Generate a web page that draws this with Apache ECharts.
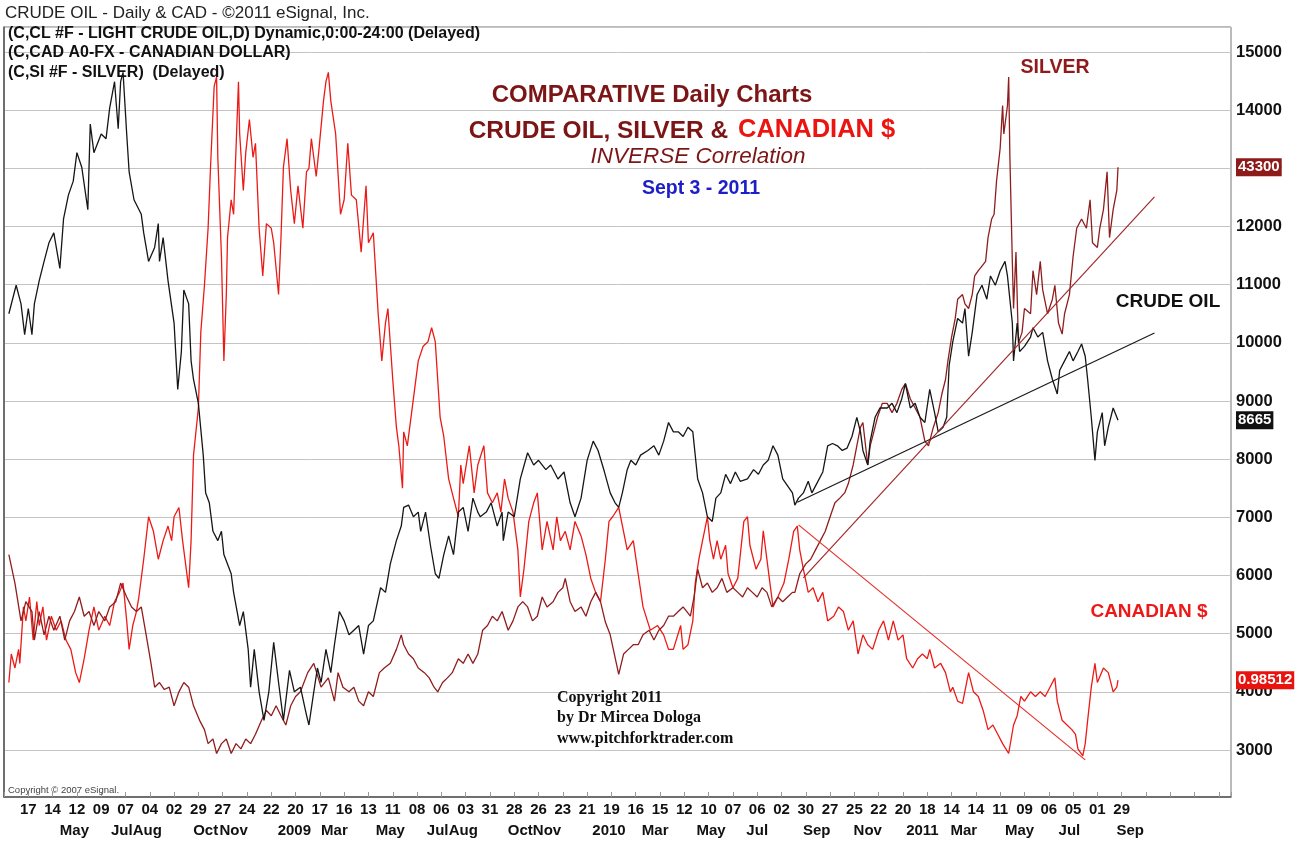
<!DOCTYPE html>
<html>
<head>
<meta charset="utf-8">
<script src="https://cdn.jsdelivr.net/npm/echarts@6/dist/echarts.min.js"></script>
<style>
html, body { margin: 0; padding: 0; background: #fff; }
#chart { width: 1308px; height: 841px; }
</style>
</head>
<body>
<div id="chart"></div>
<script>
// x = trading-day index from the left edge, y = value on the right-hand scale
let crude = [[4,10500],[10,10990],[14,10670],[17,10140],[20,10590],[23,10140],[25,10670],[29,11070],[33,11400],[37,11720],[41,11890],[46,11280],[49,12130],[53,12540],[57,12780],[60,13270],[64,13020],[69,12290],[71,13760],[74,13270],[80,13590],[84,13510],[87,14040],[91,14490],[94,13680],[96,14490],[98,14650],[101,13590],[103,12940],[107,12460],[113,12210],[115,11890],[119,11400],[124,11640],[127,12050],[128,11400],[131,11810],[135,11070],[140,10340],[143,9200],[146,9850],[148,10910],[152,10670],[154,9690],[156,9370],[160,8960],[164,8070],[166,7420],[169,7250],[172,6760],[176,6600],[179,6760],[181,6360],[187,6030],[189,5710],[194,5140],[197,5380],[201,4730],[203,4080],[206,4730],[210,4000],[214,3510],[218,4000],[222,4850],[226,4160],[230,3510],[235,4370],[239,4000],[244,4080],[249,3600],[251,3430],[255,4000],[258,4410],[261,4160],[265,4730],[269,4330],[272,4810],[276,5380],[280,5220],[284,4980],[288,5060],[292,5140],[296,4650],[300,5140],[304,5220],[310,5790],[314,5710],[318,6200],[323,6600],[327,6850],[329,7170],[333,7210],[337,7010],[341,7090],[343,6760],[347,7090],[351,6520],[355,6030],[358,5950],[362,6360],[366,6680],[370,6360],[374,7090],[378,7170],[382,6760],[386,7330],[390,7090],[392,7010],[397,7090],[401,7250],[406,6850],[410,7090],[411,6600],[415,7090],[420,7010],[425,7660],[431,8110],[436,7900],[440,7980],[446,7820],[450,7900],[456,7660],[461,7780],[466,7250],[470,7010],[475,7330],[480,7980],[485,8310],[489,8150],[494,7800],[499,7420],[503,7250],[506,7170],[509,7420],[513,7820],[516,7980],[520,7900],[524,8070],[530,8150],[535,8230],[539,8070],[543,8310],[547,8630],[551,8470],[555,8470],[559,8390],[563,8550],[567,8470],[571,7660],[575,7420],[579,7010],[583,6930],[586,7330],[590,7420],[594,7740],[598,7580],[602,7780],[606,7620],[612,7660],[617,7820],[621,7740],[625,7900],[629,7980],[633,8230],[637,8070],[641,7660],[645,7540],[649,7420],[651,7210],[654,7330],[658,7420],[662,7620],[665,7420],[669,7580],[674,7780],[678,8230],[682,8270],[686,8230],[690,8150],[694,8190],[698,8390],[702,8720],[705,8470],[707,8150],[711,7900],[713,8310],[717,8720],[721,8880],[727,8880],[731,8960],[735,8800],[739,9040],[742,9300],[746,8880],[750,8960],[754,8720],[758,8630],[762,9200],[766,8800],[769,8470],[773,8550],[776,8720],[778,9610],[781,10020],[785,10420],[789,10340],[791,10590],[794,9770],[797,10180],[801,10830],[805,10990],[809,10750],[812,11150],[816,10990],[820,11240],[824,11400],[826,11150],[830,10340],[831,9690],[834,10340],[836,9850],[840,9940],[845,10100],[847,10260],[851,10100],[855,10180],[859,9690],[863,9370],[867,9120],[869,9530],[873,9690],[877,9850],[880,9690],[884,9850],[887,9980],[890,9770],[892,9370],[895,8720],[898,7980],[900,8470],[904,8800],[906,8230],[909,8550],[913,8880],[917,8670]];

let silver = [[4,6360],[9,5870],[14,5220],[18,5550],[23,5380],[25,4890],[29,5380],[33,4980],[37,5300],[41,5060],[46,5300],[50,4890],[54,5220],[58,5380],[62,5630],[66,5300],[70,5380],[74,5140],[78,5380],[83,5220],[87,5460],[92,5550],[96,5870],[101,5630],[105,5460],[109,5380],[113,5460],[117,4980],[121,4490],[124,4080],[128,4160],[132,4040],[136,4080],[140,3760],[144,4000],[148,4160],[152,4080],[156,3760],[161,3510],[165,3350],[168,3110],[172,3190],[175,2940],[179,3110],[183,3190],[187,2940],[191,3110],[195,3020],[199,3190],[203,3110],[207,3270],[212,3510],[216,3680],[220,3590],[224,3760],[228,3590],[232,3430],[236,3760],[240,3920],[244,4000],[250,4330],[255,4490],[261,4080],[267,4240],[272,3840],[275,4330],[279,4080],[284,4000],[288,4080],[292,3840],[296,3760],[300,4000],[304,3920],[309,4330],[313,4410],[318,4490],[323,4730],[327,4980],[329,4810],[333,4650],[337,4570],[341,4410],[346,4330],[350,4240],[354,4080],[357,4000],[361,4160],[365,4240],[369,4330],[374,4570],[378,4490],[382,4650],[386,4490],[390,4650],[394,5060],[398,5140],[402,5300],[406,5220],[410,5380],[415,5060],[419,5220],[423,5460],[427,5550],[431,5460],[435,5220],[439,5300],[443,5630],[447,5460],[452,5550],[456,5710],[460,5790],[462,5950],[466,5550],[470,5380],[475,5460],[479,5300],[483,5550],[487,5710],[491,5550],[495,5200],[499,4980],[506,4300],[510,4650],[514,4730],[518,4810],[522,4810],[526,4980],[531,5060],[535,4890],[539,5060],[543,5140],[547,5300],[551,5300],[555,5380],[559,5460],[565,5300],[568,5630],[571,6110],[575,5790],[579,5870],[583,5710],[587,5790],[591,5950],[595,5710],[600,5790],[604,5710],[608,5630],[612,5790],[616,5710],[620,5630],[624,5790],[628,5710],[632,5460],[637,5630],[641,5550],[645,5630],[649,5710],[651,5710],[655,6030],[660,6200],[664,6280],[668,6440],[672,6600],[676,6760],[680,7010],[684,7250],[688,7330],[692,7420],[695,7580],[699,7900],[702,8230],[705,8550],[707,8630],[711,7900],[713,8230],[716,8470],[719,8720],[723,8960],[727,8960],[731,8800],[735,8960],[739,9200],[742,9300],[746,9040],[750,8880],[754,8720],[758,8310],[761,8230],[765,8550],[769,8800],[772,9120],[775,9370],[777,9690],[780,10100],[783,10420],[785,10750],[789,10830],[791,10670],[794,10590],[797,10830],[799,11150],[802,11240],[805,11320],[808,11400],[810,11810],[813,12130],[815,12210],[817,12780],[820,13350],[822,14080],[823,13590],[826,14080],[827,14570],[828,13190],[830,11400],[831,10590],[833,11560],[835,10000],[838,10180],[840,10590],[845,10500],[847,11240],[850,10830],[853,11400],[855,10910],[859,10500],[863,10750],[865,10990],[868,10340],[871,10150],[873,10500],[877,10830],[880,11480],[883,11970],[887,12130],[891,11970],[894,12460],[896,11720],[900,11640],[902,11970],[905,12290],[908,12940],[910,11810],[913,12290],[916,12620],[917,13020]];

let cad = [[4,4160],[6,4650],[9,4410],[12,4730],[13,4490],[16,5460],[18,5220],[21,5630],[24,4890],[27,5550],[29,5140],[32,5460],[35,4890],[39,5300],[43,5060],[47,5220],[51,4890],[55,4730],[59,4330],[62,4160],[66,4570],[70,5060],[74,5460],[78,5060],[83,5300],[87,5140],[91,5550],[95,5710],[98,5870],[101,5220],[103,4730],[106,5140],[109,5380],[111,5630],[115,6280],[119,7010],[123,6760],[127,6280],[131,6600],[135,6850],[138,6600],[140,7010],[144,7170],[147,6600],[152,5790],[154,6600],[156,8070],[160,8880],[162,10180],[165,10990],[168,11970],[170,13020],[173,14410],[175,14570],[176,13190],[179,11480],[181,9690],[183,10830],[184,11810],[187,12460],[189,12210],[193,14490],[194,13590],[197,12620],[199,13270],[202,13840],[205,13190],[207,13430],[210,11970],[213,11150],[216,12050],[220,11970],[222,11720],[226,10830],[228,11810],[230,13020],[233,13510],[236,12620],[239,12050],[242,12700],[246,11970],[249,12940],[251,13000],[253,13510],[257,12860],[259,13270],[263,14160],[265,14490],[267,14650],[269,14160],[273,13590],[277,12210],[280,12460],[283,13430],[286,12540],[290,12460],[294,11560],[298,12700],[300,11720],[304,11890],[308,10500],[311,9690],[314,10340],[316,10590],[320,9370],[323,8550],[325,8230],[328,7500],[329,8470],[332,8230],[337,9040],[341,9690],[345,9940],[349,10020],[352,10260],[355,10020],[359,8720],[362,8390],[366,7660],[370,7330],[374,7010],[376,7900],[378,7580],[383,8230],[387,7420],[390,7900],[395,8230],[398,7420],[402,7250],[406,7420],[409,7090],[412,7660],[415,7330],[419,7090],[423,6440],[425,5630],[428,6110],[432,6930],[436,7250],[439,7420],[443,6440],[447,6930],[452,6440],[455,7010],[458,6600],[462,6760],[466,6440],[470,6930],[475,6680],[479,6360],[483,5950],[487,5710],[491,5550],[495,6280],[498,6930],[501,7010],[506,7170],[513,6440],[518,6600],[522,6030],[526,5460],[532,5060],[538,5140],[543,4980],[547,4730],[551,4730],[557,5140],[559,4730],[563,4810],[567,5220],[569,5870],[572,6280],[575,6600],[579,7010],[581,6600],[584,6280],[587,6600],[590,6280],[594,6520],[596,6030],[600,5790],[604,5950],[609,6930],[612,7010],[614,6520],[619,6110],[623,6280],[625,6770],[629,6110],[633,5460],[637,5630],[642,5870],[646,6280],[650,6760],[653,6850],[655,6440],[658,6110],[662,5710],[666,5790],[670,5550],[674,5710],[678,5220],[683,5300],[687,5460],[691,5380],[695,5060],[699,5220],[703,4650],[707,4980],[711,4810],[715,4730],[720,5060],[724,5220],[728,4890],[732,5220],[736,4890],[740,4980],[743,4570],[748,4410],[752,4570],[756,4650],[760,4570],[762,4730],[766,4410],[771,4490],[775,4330],[779,4000],[781,4080],[785,3840],[789,3800],[794,4330],[798,4000],[802,3920],[806,3680],[810,3350],[814,3430],[818,3270],[822,3110],[827,2940],[831,3430],[834,3590],[837,3920],[840,3840],[845,4000],[849,3920],[853,4000],[857,3920],[861,4080],[865,4240],[867,3840],[871,3510],[875,3430],[879,3350],[882,3270],[884,3020],[888,2900],[890,3110],[892,3510],[895,4080],[898,4490],[900,4160],[905,4410],[909,4330],[913,4000],[916,4080],[917,4200]];

// hand-drawn trend lines
let crudeTrend = [[653,7260],[947,10170]];
let silverTrend = [[658,5960],[947,12510]];
let cadTrend = [[654,6870],[890,2830]];

// last-price tags on the price scale
let silverTag = "43300";
let crudeTag = "8665";
let cadTag = "0.98512";

// day labels every 20 bars, starting at bar 20
let dayLabels = ["17","14","12","09","07","04","02","29","27","24","22","20","17","16","13","11","08","06","03","31","28","26","23","21","19","16","15","12","10","07","06","02","30","27","25","22","20","18","14","14","11","09","06","05","01","29"];
let monthNames = ["May","Jul","Aug","Oct","Nov","2009","Mar","May","Jul","Aug","Oct","Nov","2010","Mar","May","Jul","Sep","Nov","2011","Mar","May","Jul","Sep"];
let monthDays = [58,97,118,166,189,239,272,318,357,378,425,447,498,536,582,620,669,711,756,790,836,877,927];

const SANS = '"Liberation Sans", Arial, sans-serif';
const SERIF = '"Liberation Serif", "Times New Roman", serif';
const C_CRUDE = "#161616";
const C_SILVER = "#901d1d";
const C_CAD = "#ec1a16";

let monthAt = {};
monthDays.forEach((d, i) => { monthAt[d] = monthNames[i]; });

function priceSeries(name, data, color, tag, tagBg) {
    return {
        type: "line",
        name: name,
        data: data,
        symbol: "none",
        lineStyle: { color: color, width: 1.3 },
        animation: false,
        markLine: {
            silent: true,
            symbol: "none",
            animation: false,
            lineStyle: { color: "rgba(0,0,0,0)", width: 1, type: "solid" },
            data: [{ yAxis: data[data.length - 1][1] }],
            label: {
                show: true,
                position: "end",
                distance: 5,
                formatter: tag,
                color: "#fff",
                backgroundColor: tagBg,
                padding: [2, 2, 1, 2],
                fontFamily: SANS,
                fontWeight: "bold",
                fontSize: 15
            }
        }
    };
}

function trendSeries(data, color) {
    return {
        type: "line",
        data: data,
        symbol: "none",
        lineStyle: { color: color, width: 1.2 },
        animation: false,
        silent: true
    };
}

function txt(text, x, y, font, fill, align) {
    return {
        type: "text",
        x: x,
        y: y,
        z: 100,
        style: {
            text: text,
            font: font,
            fill: fill,
            align: align || "left",
            verticalAlign: "middle"
        }
    };
}

var myChart = echarts.init(document.getElementById("chart"));
myChart.setOption({
    backgroundColor: "#fff",
    animation: false,
    grid: {
        left: 4,
        right: 77,
        top: 27,
        bottom: 44,
        show: true,
        borderColor: "#777",
        borderWidth: 1
    },
    xAxis: [{
        type: "value",
        min: 0,
        max: 1010,
        interval: 20,
        axisLine: { show: true, onZero: false, lineStyle: { color: "#555", width: 1.5 } },
        axisTick: { show: true, inside: true, length: 5, lineStyle: { color: "#999" } },
        splitLine: { show: false },
        axisLabel: {
            margin: 5,
            color: "#111",
            fontFamily: SANS,
            fontWeight: "bold",
            fontSize: 15,
            formatter: val => {
                let i = val / 20 - 1;
                return (i >= 0 && i < dayLabels.length) ? dayLabels[i] : "";
            }
        }
    }, {
        type: "value",
        min: 0,
        max: 1010,
        interval: 1,
        position: "bottom",
        axisLine: { show: false },
        axisTick: { show: false },
        splitLine: { show: false },
        axisLabel: {
            margin: 26,
            color: "#111",
            fontFamily: SANS,
            fontWeight: "bold",
            fontSize: 15,
            formatter: val => monthAt[val] || ""
        }
    }],
    yAxis: {
        type: "value",
        position: "right",
        min: 2192,
        max: 15430,
        splitNumber: 13,
        axisLine: { show: true, lineStyle: { color: "#555", width: 1.5 } },
        axisTick: { show: false },
        splitLine: { show: true, lineStyle: { color: "#c4c4c4", width: 1 } },
        axisLabel: {
            margin: 5,
            color: "#111",
            fontFamily: SANS,
            fontWeight: "bold",
            fontSize: 16.5,
            formatter: val => (val % 1000 === 0 && val >= 3000 && val <= 15000) ? String(val) : ""
        }
    },
    series: [
        priceSeries("Canadian $", cad, C_CAD, cadTag, "#e8120e"),
        priceSeries("Silver", silver, C_SILVER, silverTag, "#8e1a1a"),
        priceSeries("Crude Oil", crude, C_CRUDE, crudeTag, "#111"),
        trendSeries(crudeTrend, "#1a1a1a"),
        trendSeries(silverTrend, "#a22a2a"),
        trendSeries(cadTrend, "#e4302a")
    ],
    graphic: [
        txt("CRUDE OIL - Daily & CAD - ©2011 eSignal, Inc.", 5, 13, "17px " + SANS, "#222"),
        txt("(C,CL #F - LIGHT CRUDE OIL,D) Dynamic,0:00-24:00 (Delayed)", 8, 34, "bold 16px " + SANS, "#111"),
        txt("(C,CAD A0-FX - CANADIAN DOLLAR)", 8, 53, "bold 16px " + SANS, "#111"),
        txt("(C,SI #F - SILVER)  (Delayed)", 8, 73, "bold 16px " + SANS, "#111"),
        txt("COMPARATIVE Daily Charts", 652, 95, "bold 24px " + SANS, "#7c1616", "center"),
        txt("CRUDE OIL, SILVER & ", 735, 131, "bold 24.5px " + SANS, "#7c1616", "right"),
        txt("CANADIAN $", 738, 130, "bold 25.5px " + SANS, "#ec1410"),
        txt("INVERSE Correlation", 698, 157, "italic 22.5px " + SANS, "#7c1616", "center"),
        txt("Sept 3 - 2011", 701, 189, "bold 19.5px " + SANS, "#1e1ec8", "center"),
        txt("SILVER", 1055, 68, "bold 19.5px " + SANS, "#8e1a1a", "center"),
        txt("CRUDE OIL", 1168, 302, "bold 19px " + SANS, "#111", "center"),
        txt("CANADIAN $", 1149, 612, "bold 19px " + SANS, "#ec1a16", "center"),
        txt("Copyright 2011", 557, 698, "bold 16px " + SERIF, "#111"),
        txt("by Dr Mircea Dologa", 557, 718, "bold 16px " + SERIF, "#111"),
        txt("www.pitchforktrader.com", 557, 739, "bold 16px " + SERIF, "#111"),
        txt("Copyright © 2007 eSignal.", 8, 790, "9.5px " + SANS, "#444")
    ]
});
</script>
</body>
</html>
